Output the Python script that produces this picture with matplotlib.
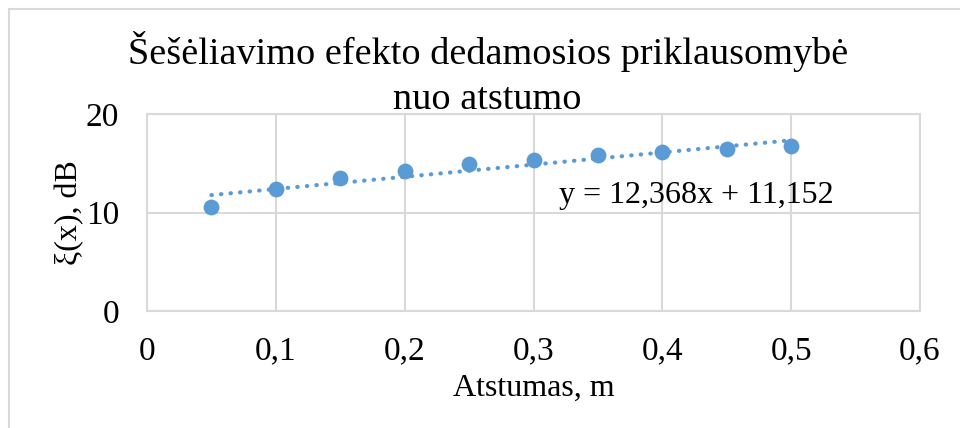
import numpy as np
import matplotlib.pyplot as plt
from matplotlib.patches import Rectangle

# distance (m) and measured component (dB)
atstumas = [0.05, 0.10, 0.15, 0.20, 0.25, 0.30, 0.35, 0.40, 0.45, 0.50]
xi_db = [10.53, 12.42, 13.47, 14.24, 14.89, 15.33, 15.84, 16.11, 16.45, 16.75]

x_ticks = [0, 0.1, 0.2, 0.3, 0.4, 0.5, 0.6]
x_tick_labels = ['0', '0,1', '0,2', '0,3', '0,4', '0,5', '0,6']
y_ticks = [0, 10, 20]

title_lines = ['Šešėliavimo efekto dedamosios priklausomybė', 'nuo atstumo']
color = '#5B9BD5'
grid_col = '#D9D9D9'

plt.rcParams['font.family'] = ['Liberation Serif', 'DejaVu Serif']

fig = plt.figure(figsize=(9.6, 4.28), dpi=100)
ax = fig.add_axes([147 / 960, 1 - 311 / 428, (920 - 147) / 960, (311 - 114) / 428])

# outer chart frame (cut by the image on the right and bottom)
fig.patches.append(Rectangle((9 / 960, -0.1), 1.2, 1 - 9 / 428 + 0.1,
                             transform=fig.transFigure, fill=False,
                             edgecolor=grid_col, linewidth=1.5))

ax.scatter(atstumas, xi_db, s=130, color=color, zorder=3, linewidths=0)

# linear trendline (Excel style)
xt = np.array([atstumas[0], atstumas[-1]])
ax.plot(xt, 12.368 * xt + 11.152, linestyle=(0, (0.1, 2.2)), color=color,
        linewidth=3, dash_capstyle='round', zorder=2)
ax.text(0.32, 11.7, 'y = 12,368x + 11,152', fontsize=23, va='center', ha='left')

ax.set_xlim(0, 0.6)
ax.set_ylim(0, 20)
ax.set_xticks(x_ticks)
ax.set_xticklabels(x_tick_labels)
ax.set_yticks(y_ticks)
ax.tick_params(length=0, labelsize=24)
ax.tick_params(axis='x', pad=18)
ax.tick_params(axis='y', pad=20)
ax.grid(True, color=grid_col, linewidth=1.5)
ax.set_axisbelow(True)
for s in ax.spines.values():
    s.set_color(grid_col)
    s.set_linewidth(1.5)

ax.set_xlabel('Atstumas, m', fontsize=23, labelpad=5)
ax.set_ylabel('ξ(x), dB', fontsize=23, labelpad=1)

# title in two lines, as in the original
fig.text(0.508, 1 - 64 / 428, title_lines[0], ha='center', va='baseline', fontsize=27.5)
fig.text(0.508, 1 - 109 / 428, title_lines[1], ha='center', va='baseline', fontsize=27.5)

fig.savefig('out.png', dpi=100)
